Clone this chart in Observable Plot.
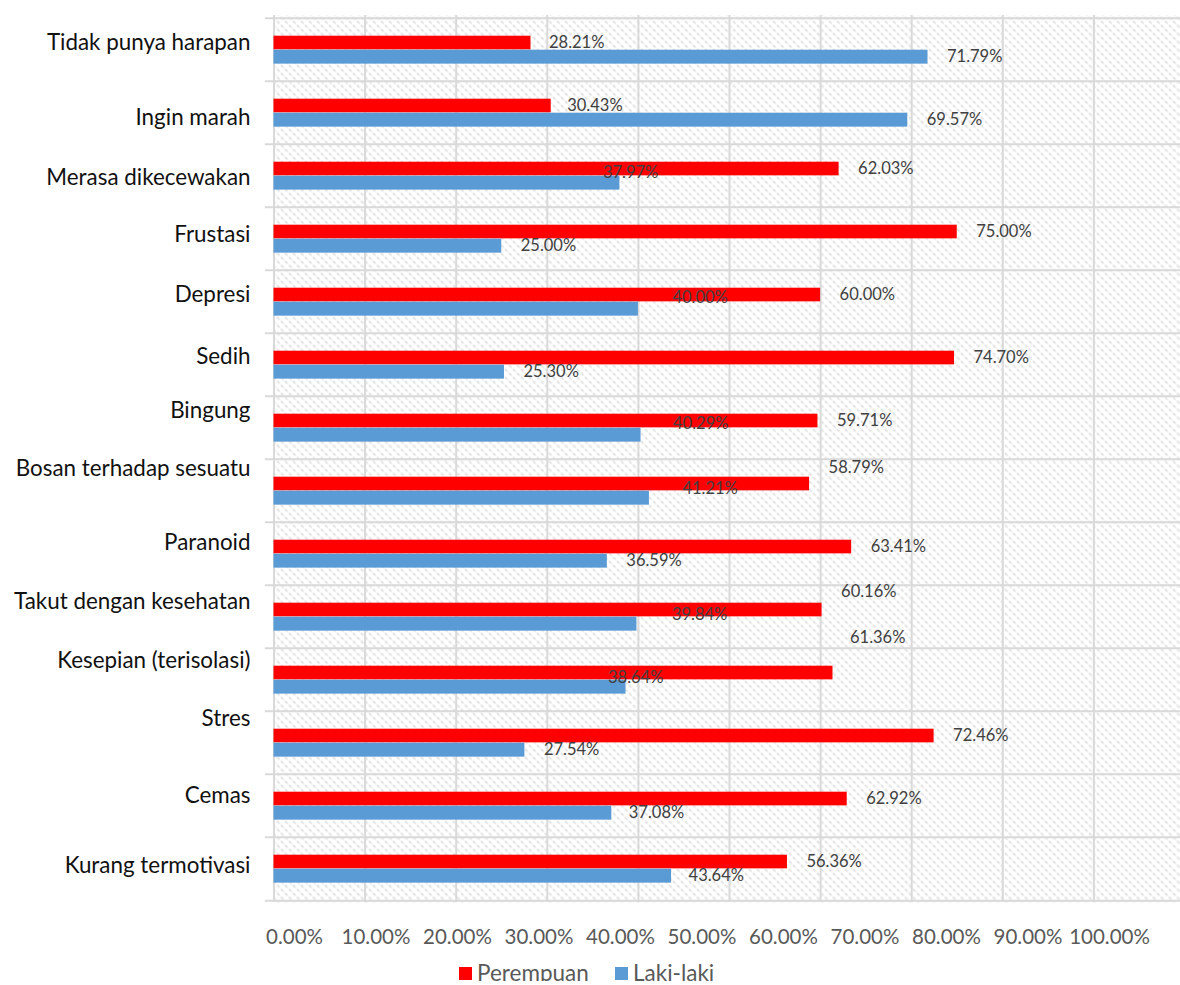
<!DOCTYPE html>
<html>
<head>
<meta charset="utf-8">
<script src="https://cdn.jsdelivr.net/npm/d3@7"></script>
<script src="https://cdn.jsdelivr.net/npm/@observablehq/plot@0.6"></script>
<style>
  html, body { margin: 0; padding: 0; background: #fff; overflow: hidden; }
  #chart svg { display: block; }
  #legend { position: relative; height: 16px; margin-top: -4px; font-family: Lato, "Open Sans", sans-serif; font-size: 22.5px; color: #595959; }
  .item { position: absolute; top: 0; display: flex; align-items: center; height: 16px; line-height: 16px; }
  .sw { width: 13px; height: 13px; margin-right: 5px; }
</style>
</head>
<body>
<div id="chart"></div>
<script>
// ---- data ----
const categories = ["Tidak punya harapan", "Ingin marah", "Merasa dikecewakan", "Frustasi", "Depresi", "Sedih", "Bingung", "Bosan terhadap sesuatu", "Paranoid", "Takut dengan kesehatan", "Kesepian (terisolasi)", "Stres", "Cemas", "Kurang termotivasi"];
const perempuan = [28.21, 30.43, 62.03, 75.00, 60.00, 74.70, 59.71, 58.79, 63.41, 60.16, 61.36, 72.46, 62.92, 56.36];
const lakiLaki  = [71.79, 69.57, 37.97, 25.00, 40.00, 25.30, 40.29, 41.21, 36.59, 39.84, 38.64, 27.54, 37.08, 43.64];
const seriesNames = ["Perempuan", "Laki-laki"];
const xTickValues = [0, 10, 20, 30, 40, 50, 60, 70, 80, 90, 100];

// ---- layout (label nudges, px) ----
const catLabelDy = [-7, 5, 2, -4, -7, -8, -17, -22, -11, -15, -19, -24, -10, -3];
const redShift  = [[-1,0],[-3,0],[0,0],[0,0],[0,0],[0,0],[0,0],[0,-16],[0,0],[0,-18],[-2,-35],[0,0],[0,0],[0,0]];
const blueShift = [[0,0],[0,0],[-36,-10],[0,0],[15,-11],[0,0],[13,-11],[14,-9],[0,0],[16,-9],[-37,-9],[0,0],[-2,0],[-2,0]];

const colors = {"Perempuan": "#FF0000", "Laki-laki": "#5B9BD5"};
const grid = "#D9D9D9";
const fmt = v => v.toFixed(2) + "%";

const rows = [];
categories.forEach((c, i) => {
  rows.push({cat: c, series: "Perempuan", value: perempuan[i], i});
  rows.push({cat: c, series: "Laki-laki", value: lakiLaki[i], i});
});

const W = 1180, H = 905, mt = 15, mb = 3;
const band = (H - mt - mb) / categories.length;

const labelMarks = rows.map(r => {
  const s = r.series === "Perempuan" ? redShift[r.i] : blueShift[r.i];
  const base = r.series === "Perempuan" ? -7 : 7;
  return Plot.text([r], {
    x: "value", y: "cat", text: d => fmt(d.value),
    textAnchor: "start", dx: 19 + s[0], dy: base + s[1],
    fill: "#404040", fontSize: 16.5, fontFamily: "Lato, 'Open Sans', sans-serif"
  });
});

const catMarks = categories.map((c, i) => Plot.text([c], {
  y: d => d, text: d => d, frameAnchor: "left", textAnchor: "end",
  dx: -23.5, dy: catLabelDy[i], fill: "#111", fontSize: 22.4,
  fontFamily: "Lato, 'Open Sans', sans-serif"
}));

const main = Plot.plot({
  width: W, height: H,
  marginLeft: 273.5, marginRight: -4.5, marginTop: mt, marginBottom: mb,
  x: {domain: [0, 100], axis: null},
  y: {domain: categories, padding: 0, axis: null},
  marks: [
    Plot.frame({fill: "url(#hatch)", stroke: null}),
    Plot.ruleX(xTickValues, {stroke: grid, strokeWidth: 2}),
    Plot.ruleY(categories, {y: d => d, x1: -0.95, x2: 101, dy: -band / 2, stroke: grid, strokeWidth: 2}),
    Plot.ruleY([categories[categories.length - 1]], {y: d => d, x1: -0.95, x2: 101, dy: band / 2, stroke: grid, strokeWidth: 2}),
    Plot.barX(rows.filter(r => r.series === "Perempuan"), {x: "value", y: "cat", fill: colors["Perempuan"], insetTop: 17.7, insetBottom: band - 31.7}),
    Plot.barX(rows.filter(r => r.series === "Laki-laki"), {x: "value", y: "cat", fill: colors["Laki-laki"], insetTop: 31.7, insetBottom: band - 46}),
    ...labelMarks,
    ...catMarks
  ]
});

d3.select(main).insert("defs", ":first-child").html(
  `<pattern id="hatch" width="8" height="8" patternUnits="userSpaceOnUse">
     <rect width="8" height="8" fill="#ffffff"/>
     <path d="M1,1 L2.6,2.6 M5,5 L6.6,6.6" stroke="#e0e0e0" stroke-width="1.8" stroke-linecap="round"/>
   </pattern>`);

const axisPlot = Plot.plot({
  width: W, height: 64,
  marginLeft: 294, marginRight: 71, marginTop: 0, marginBottom: 0,
  x: {domain: [0, 100], axis: null},
  marks: [
    Plot.text(xTickValues, {x: d => d, text: d => fmt(d), frameAnchor: "middle",
      fill: "#595959", fontSize: 20.5, fontFamily: "Lato, 'Open Sans', sans-serif"})
  ]
});

const chart = document.getElementById("chart");
chart.appendChild(main);
chart.appendChild(axisPlot);

const legend = document.createElement("div");
legend.id = "legend";
const legendLeft = {"Perempuan": 459, "Laki-laki": 615};
seriesNames.forEach(s => {
  const it = document.createElement("div");
  it.className = "item";
  it.style.left = legendLeft[s] + "px";
  const sw = document.createElement("span");
  sw.className = "sw";
  sw.style.background = colors[s];
  const t = document.createElement("span");
  t.textContent = s;
  it.appendChild(sw); it.appendChild(t);
  legend.appendChild(it);
});
chart.appendChild(legend);
</script>
</body>
</html>
